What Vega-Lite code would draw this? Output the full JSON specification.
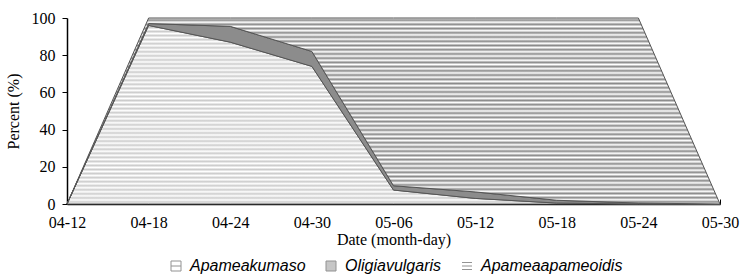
{
  "$schema": "https://vega.github.io/schema/vega-lite/v6.json",
  "width": 653,
  "height": 186,
  "autosize": {"type": "none"},
  "padding": {"left": 67, "top": 18, "right": 20, "bottom": 73},
  "background": "white",
  "config": {
    "view": {"stroke": null},
    "axis": {
      "labelFont": "Liberation Serif",
      "labelFontSize": 16,
      "labelColor": "black",
      "titleFont": "Liberation Serif",
      "titleFontSize": 16,
      "titleFontWeight": "normal",
      "titleColor": "black",
      "domainColor": "black",
      "domainWidth": 1.5,
      "tickColor": "black",
      "tickWidth": 1,
      "grid": false
    }
  },
  "data": {
    "values": [
      {"date": "04-12", "series": "Apameakumaso", "rank": 1, "value": 0},
      {"date": "04-18", "series": "Apameakumaso", "rank": 1, "value": 96},
      {"date": "04-24", "series": "Apameakumaso", "rank": 1, "value": 87},
      {"date": "04-30", "series": "Apameakumaso", "rank": 1, "value": 74},
      {"date": "05-06", "series": "Apameakumaso", "rank": 1, "value": 7.5},
      {"date": "05-12", "series": "Apameakumaso", "rank": 1, "value": 3},
      {"date": "05-18", "series": "Apameakumaso", "rank": 1, "value": 0.5},
      {"date": "05-24", "series": "Apameakumaso", "rank": 1, "value": 0},
      {"date": "05-30", "series": "Apameakumaso", "rank": 1, "value": 0},
      {"date": "04-12", "series": "Oligiavulgaris", "rank": 2, "value": 0},
      {"date": "04-18", "series": "Oligiavulgaris", "rank": 2, "value": 1},
      {"date": "04-24", "series": "Oligiavulgaris", "rank": 2, "value": 8.5},
      {"date": "04-30", "series": "Oligiavulgaris", "rank": 2, "value": 8},
      {"date": "05-06", "series": "Oligiavulgaris", "rank": 2, "value": 2.3},
      {"date": "05-12", "series": "Oligiavulgaris", "rank": 2, "value": 3.5},
      {"date": "05-18", "series": "Oligiavulgaris", "rank": 2, "value": 1.5},
      {"date": "05-24", "series": "Oligiavulgaris", "rank": 2, "value": 0.5},
      {"date": "05-30", "series": "Oligiavulgaris", "rank": 2, "value": 0},
      {"date": "04-12", "series": "Apameaapameoidis", "rank": 3, "value": 0},
      {"date": "04-18", "series": "Apameaapameoidis", "rank": 3, "value": 3},
      {"date": "04-24", "series": "Apameaapameoidis", "rank": 3, "value": 4.5},
      {"date": "04-30", "series": "Apameaapameoidis", "rank": 3, "value": 18},
      {"date": "05-06", "series": "Apameaapameoidis", "rank": 3, "value": 90.2},
      {"date": "05-12", "series": "Apameaapameoidis", "rank": 3, "value": 93.5},
      {"date": "05-18", "series": "Apameaapameoidis", "rank": 3, "value": 98},
      {"date": "05-24", "series": "Apameaapameoidis", "rank": 3, "value": 99.5},
      {"date": "05-30", "series": "Apameaapameoidis", "rank": 3, "value": 0}
    ]
  },
  "transform": [
    {"stack": "value", "groupby": ["date"], "sort": [{"field": "rank", "order": "ascending"}], "as": ["y0", "y1"]}
  ],
  "encoding": {
    "x": {
      "field": "date",
      "type": "ordinal",
      "scale": {"type": "point", "padding": 0},
      "axis": {"title": "Date (month-day)", "labelAngle": 0, "tickSize": -5, "labelPadding": 15, "titlePadding": 1}
    },
    "y": {
      "field": "y1",
      "type": "quantitative",
      "scale": {"domain": [0, 100], "nice": false},
      "axis": {"title": "Percent (%)", "values": [0, 20, 40, 60, 80, 100], "tickSize": 5, "labelPadding": 7, "titlePadding": 10}
    }
  },
  "layer": [
    {
      "transform": [{"filter": "datum.series === 'Apameakumaso'"}],
      "mark": {"type": "area", "stroke": "#555555", "strokeWidth": 1,
        "fill": {"gradient": "linear", "x1": 0, "y1": 0, "x2": 0, "y2": 1, "stops": [
            {"offset": 0, "color": "#ffffff"}, {"offset": 0.0114, "color": "#cccccc"}, {"offset": 0.0227, "color": "#ffffff"}, {"offset": 0.0341, "color": "#cccccc"}, {"offset": 0.0455, "color": "#ffffff"}, {"offset": 0.0568, "color": "#cccccc"}, {"offset": 0.0682, "color": "#ffffff"}, {"offset": 0.0795, "color": "#cccccc"}, {"offset": 0.0909, "color": "#ffffff"}, {"offset": 0.1023, "color": "#cccccc"},
            {"offset": 0.1136, "color": "#ffffff"}, {"offset": 0.125, "color": "#cccccc"}, {"offset": 0.1364, "color": "#ffffff"}, {"offset": 0.1477, "color": "#cccccc"}, {"offset": 0.1591, "color": "#ffffff"}, {"offset": 0.1705, "color": "#cccccc"}, {"offset": 0.1818, "color": "#ffffff"}, {"offset": 0.1932, "color": "#cccccc"}, {"offset": 0.2045, "color": "#ffffff"}, {"offset": 0.2159, "color": "#cccccc"},
            {"offset": 0.2273, "color": "#ffffff"}, {"offset": 0.2386, "color": "#cccccc"}, {"offset": 0.25, "color": "#ffffff"}, {"offset": 0.2614, "color": "#cccccc"}, {"offset": 0.2727, "color": "#ffffff"}, {"offset": 0.2841, "color": "#cccccc"}, {"offset": 0.2955, "color": "#ffffff"}, {"offset": 0.3068, "color": "#cccccc"}, {"offset": 0.3182, "color": "#ffffff"}, {"offset": 0.3295, "color": "#cccccc"},
            {"offset": 0.3409, "color": "#ffffff"}, {"offset": 0.3523, "color": "#cccccc"}, {"offset": 0.3636, "color": "#ffffff"}, {"offset": 0.375, "color": "#cccccc"}, {"offset": 0.3864, "color": "#ffffff"}, {"offset": 0.3977, "color": "#cccccc"}, {"offset": 0.4091, "color": "#ffffff"}, {"offset": 0.4205, "color": "#cccccc"}, {"offset": 0.4318, "color": "#ffffff"}, {"offset": 0.4432, "color": "#cccccc"},
            {"offset": 0.4545, "color": "#ffffff"}, {"offset": 0.4659, "color": "#cccccc"}, {"offset": 0.4773, "color": "#ffffff"}, {"offset": 0.4886, "color": "#cccccc"}, {"offset": 0.5, "color": "#ffffff"}, {"offset": 0.5114, "color": "#cccccc"}, {"offset": 0.5227, "color": "#ffffff"}, {"offset": 0.5341, "color": "#cccccc"}, {"offset": 0.5455, "color": "#ffffff"}, {"offset": 0.5568, "color": "#cccccc"},
            {"offset": 0.5682, "color": "#ffffff"}, {"offset": 0.5795, "color": "#cccccc"}, {"offset": 0.5909, "color": "#ffffff"}, {"offset": 0.6023, "color": "#cccccc"}, {"offset": 0.6136, "color": "#ffffff"}, {"offset": 0.625, "color": "#cccccc"}, {"offset": 0.6364, "color": "#ffffff"}, {"offset": 0.6477, "color": "#cccccc"}, {"offset": 0.6591, "color": "#ffffff"}, {"offset": 0.6705, "color": "#cccccc"},
            {"offset": 0.6818, "color": "#ffffff"}, {"offset": 0.6932, "color": "#cccccc"}, {"offset": 0.7045, "color": "#ffffff"}, {"offset": 0.7159, "color": "#cccccc"}, {"offset": 0.7273, "color": "#ffffff"}, {"offset": 0.7386, "color": "#cccccc"}, {"offset": 0.75, "color": "#ffffff"}, {"offset": 0.7614, "color": "#cccccc"}, {"offset": 0.7727, "color": "#ffffff"}, {"offset": 0.7841, "color": "#cccccc"},
            {"offset": 0.7955, "color": "#ffffff"}, {"offset": 0.8068, "color": "#cccccc"}, {"offset": 0.8182, "color": "#ffffff"}, {"offset": 0.8295, "color": "#cccccc"}, {"offset": 0.8409, "color": "#ffffff"}, {"offset": 0.8523, "color": "#cccccc"}, {"offset": 0.8636, "color": "#ffffff"}, {"offset": 0.875, "color": "#cccccc"}, {"offset": 0.8864, "color": "#ffffff"}, {"offset": 0.8977, "color": "#cccccc"},
            {"offset": 0.9091, "color": "#ffffff"}, {"offset": 0.9205, "color": "#cccccc"}, {"offset": 0.9318, "color": "#ffffff"}, {"offset": 0.9432, "color": "#cccccc"}, {"offset": 0.9545, "color": "#ffffff"}, {"offset": 0.9659, "color": "#cccccc"}, {"offset": 0.9773, "color": "#ffffff"}, {"offset": 0.9886, "color": "#cccccc"}, {"offset": 1, "color": "#ffffff"}
          ]}
      },
      "encoding": {"y2": {"field": "y0"}}
    },
    {
      "transform": [{"filter": "datum.series === 'Oligiavulgaris'"}],
      "mark": {"type": "area", "stroke": "#555555", "strokeWidth": 1, "fill": "#8c8c8c"},
      "encoding": {"y2": {"field": "y0"}}
    },
    {
      "transform": [{"filter": "datum.series === 'Apameaapameoidis'"}],
      "mark": {"type": "area", "stroke": "#555555", "strokeWidth": 1,
        "fill": {"gradient": "linear", "x1": 0, "y1": 0, "x2": 0, "y2": 1, "stops": [
            {"offset": 0, "color": "#ffffff"}, {"offset": 0.0114, "color": "#8a8a8a"}, {"offset": 0.0227, "color": "#ffffff"}, {"offset": 0.0341, "color": "#8a8a8a"}, {"offset": 0.0455, "color": "#ffffff"}, {"offset": 0.0568, "color": "#8a8a8a"}, {"offset": 0.0682, "color": "#ffffff"}, {"offset": 0.0795, "color": "#8a8a8a"}, {"offset": 0.0909, "color": "#ffffff"}, {"offset": 0.1023, "color": "#8a8a8a"},
            {"offset": 0.1136, "color": "#ffffff"}, {"offset": 0.125, "color": "#8a8a8a"}, {"offset": 0.1364, "color": "#ffffff"}, {"offset": 0.1477, "color": "#8a8a8a"}, {"offset": 0.1591, "color": "#ffffff"}, {"offset": 0.1705, "color": "#8a8a8a"}, {"offset": 0.1818, "color": "#ffffff"}, {"offset": 0.1932, "color": "#8a8a8a"}, {"offset": 0.2045, "color": "#ffffff"}, {"offset": 0.2159, "color": "#8a8a8a"},
            {"offset": 0.2273, "color": "#ffffff"}, {"offset": 0.2386, "color": "#8a8a8a"}, {"offset": 0.25, "color": "#ffffff"}, {"offset": 0.2614, "color": "#8a8a8a"}, {"offset": 0.2727, "color": "#ffffff"}, {"offset": 0.2841, "color": "#8a8a8a"}, {"offset": 0.2955, "color": "#ffffff"}, {"offset": 0.3068, "color": "#8a8a8a"}, {"offset": 0.3182, "color": "#ffffff"}, {"offset": 0.3295, "color": "#8a8a8a"},
            {"offset": 0.3409, "color": "#ffffff"}, {"offset": 0.3523, "color": "#8a8a8a"}, {"offset": 0.3636, "color": "#ffffff"}, {"offset": 0.375, "color": "#8a8a8a"}, {"offset": 0.3864, "color": "#ffffff"}, {"offset": 0.3977, "color": "#8a8a8a"}, {"offset": 0.4091, "color": "#ffffff"}, {"offset": 0.4205, "color": "#8a8a8a"}, {"offset": 0.4318, "color": "#ffffff"}, {"offset": 0.4432, "color": "#8a8a8a"},
            {"offset": 0.4545, "color": "#ffffff"}, {"offset": 0.4659, "color": "#8a8a8a"}, {"offset": 0.4773, "color": "#ffffff"}, {"offset": 0.4886, "color": "#8a8a8a"}, {"offset": 0.5, "color": "#ffffff"}, {"offset": 0.5114, "color": "#8a8a8a"}, {"offset": 0.5227, "color": "#ffffff"}, {"offset": 0.5341, "color": "#8a8a8a"}, {"offset": 0.5455, "color": "#ffffff"}, {"offset": 0.5568, "color": "#8a8a8a"},
            {"offset": 0.5682, "color": "#ffffff"}, {"offset": 0.5795, "color": "#8a8a8a"}, {"offset": 0.5909, "color": "#ffffff"}, {"offset": 0.6023, "color": "#8a8a8a"}, {"offset": 0.6136, "color": "#ffffff"}, {"offset": 0.625, "color": "#8a8a8a"}, {"offset": 0.6364, "color": "#ffffff"}, {"offset": 0.6477, "color": "#8a8a8a"}, {"offset": 0.6591, "color": "#ffffff"}, {"offset": 0.6705, "color": "#8a8a8a"},
            {"offset": 0.6818, "color": "#ffffff"}, {"offset": 0.6932, "color": "#8a8a8a"}, {"offset": 0.7045, "color": "#ffffff"}, {"offset": 0.7159, "color": "#8a8a8a"}, {"offset": 0.7273, "color": "#ffffff"}, {"offset": 0.7386, "color": "#8a8a8a"}, {"offset": 0.75, "color": "#ffffff"}, {"offset": 0.7614, "color": "#8a8a8a"}, {"offset": 0.7727, "color": "#ffffff"}, {"offset": 0.7841, "color": "#8a8a8a"},
            {"offset": 0.7955, "color": "#ffffff"}, {"offset": 0.8068, "color": "#8a8a8a"}, {"offset": 0.8182, "color": "#ffffff"}, {"offset": 0.8295, "color": "#8a8a8a"}, {"offset": 0.8409, "color": "#ffffff"}, {"offset": 0.8523, "color": "#8a8a8a"}, {"offset": 0.8636, "color": "#ffffff"}, {"offset": 0.875, "color": "#8a8a8a"}, {"offset": 0.8864, "color": "#ffffff"}, {"offset": 0.8977, "color": "#8a8a8a"},
            {"offset": 0.9091, "color": "#ffffff"}, {"offset": 0.9205, "color": "#8a8a8a"}, {"offset": 0.9318, "color": "#ffffff"}, {"offset": 0.9432, "color": "#8a8a8a"}, {"offset": 0.9545, "color": "#ffffff"}, {"offset": 0.9659, "color": "#8a8a8a"}, {"offset": 0.9773, "color": "#ffffff"}, {"offset": 0.9886, "color": "#8a8a8a"}, {"offset": 1, "color": "#ffffff"}
          ]}
      },
      "encoding": {"y2": {"field": "y0"}}
    },
    {
      "mark": {"type": "point", "filled": true, "size": 0, "stroke": "#666666", "strokeWidth": 1},
      "encoding": {
        "color": {
          "field": "series",
          "type": "nominal",
          "scale": {"domain": ["Apameakumaso", "Oligiavulgaris", "Apameaapameoidis"], "range": ["#ffffff", "#8c8c8c", "#ffffff"]},
          "legend": {
            "title": null,
            "orient": "none",
            "direction": "horizontal",
            "legendX": 101,
            "legendY": 240,
            "symbolSize": 100,
            "symbolStrokeColor": "#666666",
            "symbolStrokeWidth": 1,
            "symbolOpacity": 1,
            "labelFont": "Liberation Sans",
            "labelFontSize": 16,
            "labelFontStyle": "italic",
            "labelColor": "black",
            "labelOffset": 6,
            "columnPadding": 17,
            "labelLimit": 300
          }
        },
        "shape": {
          "field": "series",
          "type": "nominal",
          "scale": {"domain": ["Apameakumaso", "Oligiavulgaris", "Apameaapameoidis"], "range": ["M-1,-1H1V1H-1ZM-1,0H1", "square", "M-1,-0.7H1M-1,0H1M-1,0.7H1"]}
        }
      }
    }
  ]
}
